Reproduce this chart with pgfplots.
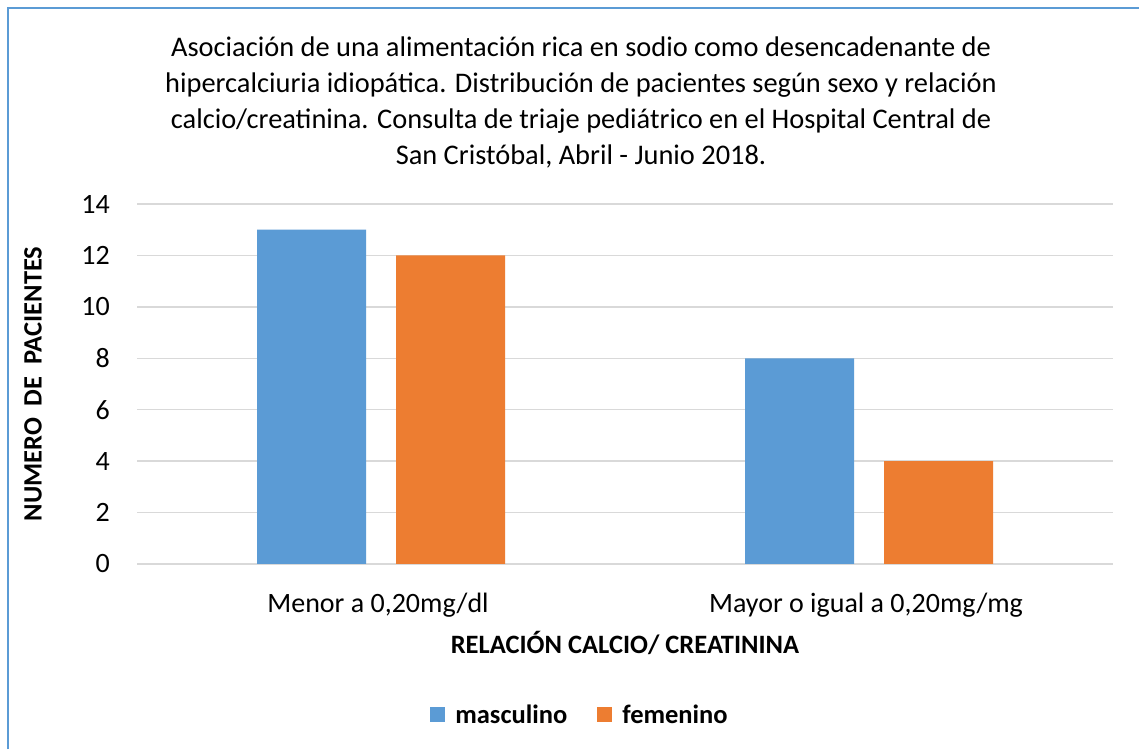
\documentclass[border=0pt]{standalone}
\usepackage{fontspec}
\setmainfont{Carlito}
\usepackage{pgfplots}
\pgfplotsset{compat=1.18}
\definecolor{cblue}{HTML}{5B9BD5}
\definecolor{corange}{HTML}{ED7D31}
\definecolor{cgrid}{HTML}{D9D9D9}
\begin{document}
\begin{tikzpicture}
\useasboundingbox (0pt,0pt) rectangle (1139pt,749pt);
\fill[white] (0pt,0pt) rectangle (1139pt,749pt);
\draw[cblue, line width=2pt] (8pt,0pt) -- (8pt,741pt) -- (1139pt,741pt);
\node[align=center, font=\fontsize{28.4}{36}\selectfont] at (581pt,647pt) {Asociación de una alimentación rica en sodio como desencadenante de\\ hipercalciuria idiopática. Distribución de pacientes según sexo y relación\\ calcio/creatinina. Consulta de triaje pediátrico en el Hospital Central de\\ San Cristóbal, Abril - Junio 2018.};
\begin{axis}[at={(137pt,185pt)}, anchor=south west, scale only axis,
  width=976pt, height=360pt,
  ymin=0, ymax=14, ytick={0,2,...,14},
  xmin=-0.5, xmax=1.5, xtick={0,1},
  xticklabels={{Menor a 0,20mg/dl}, {Mayor o igual a 0,20mg/mg}},
  ybar=30pt, bar width=109pt,
  axis line style={draw=none}, tick style={draw=none},
  ymajorgrids, grid style={cgrid, line width=1.5pt},
  /pgf/number format/assume math mode=true,
  ticklabel style={font=\fontsize{28}{32}\selectfont},
  yticklabel style={anchor=east, inner sep=0pt, xshift=-27pt},
  xticklabel style={anchor=center, inner sep=0pt, yshift=-37pt, xshift=-3pt},
  legend style={at={(axis description cs:0.4539,-0.419)}, anchor=center, draw=none,
    font=\fontsize{26.5}{30}\selectfont\bfseries, inner sep=0pt,
    /tikz/every odd column/.append style={column sep=8pt},
    /tikz/every even column/.append style={column sep=28pt}},
  legend columns=2,
]
\addplot[fill=cblue, draw=none, legend image code/.code={\fill[cblue] (0pt,-7.5pt) rectangle (15pt,7.5pt);}] coordinates {(0,13) (1,8)};
\addplot[fill=corange, draw=none, legend image code/.code={\fill[corange] (0pt,-7.5pt) rectangle (15pt,7.5pt);}] coordinates {(0,12) (1,4)};
\legend{masculino, femenino}
\end{axis}
\node[rotate=90, font=\fontsize{26.5}{30}\selectfont\bfseries] at (33pt,365pt) {NUMERO\ \ DE\ \ PACIENTES};
\node[font=\fontsize{26.5}{30}\selectfont\bfseries] at (625pt,106pt) {RELACIÓN CALCIO/ CREATININA};
\end{tikzpicture}
\end{document}
